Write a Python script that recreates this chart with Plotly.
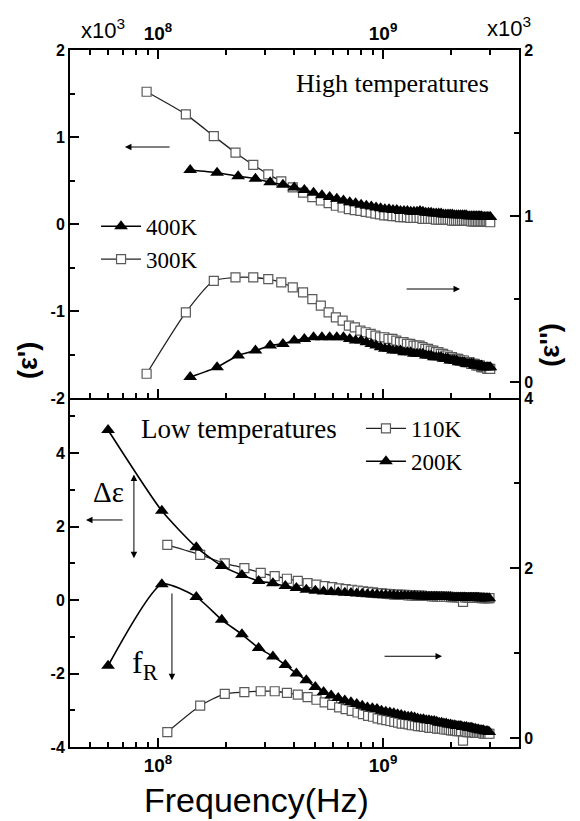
import plotly.graph_objects as go

# ---------------- data (frequencies in MHz, permittivity in units of 10^3) -------------
f300 = [89, 133, 177, 221, 265, 309, 353, 397, 441, 485,
        529, 573, 617, 661, 705, 749, 793, 837, 881, 925,
        969, 1013, 1057, 1101, 1145, 1189, 1233, 1277, 1321, 1365,
        1409, 1453, 1497, 1541, 1585, 1629, 1673, 1717, 1761, 1805,
        1849, 1893, 1937, 1981, 2025, 2069, 2113, 2157, 2201, 2245,
        2289, 2333, 2377, 2421, 2465, 2509, 2553, 2597, 2641, 2685,
        2729, 2773, 2817, 2861, 2905, 2949, 2993]
eps1_300K = [1.52, 1.26, 1.01, 0.82, 0.68, 0.57, 0.49, 0.42, 0.36, 0.31,
             0.27, 0.24, 0.21, 0.19, 0.17, 0.16, 0.15, 0.14, 0.13, 0.12,
             0.11, 0.10, 0.10, 0.09, 0.09, 0.08, 0.08, 0.08, 0.07, 0.07,
             0.07, 0.07, 0.06, 0.06, 0.06, 0.06, 0.06, 0.05, 0.05, 0.05,
             0.05, 0.05, 0.05, 0.05, 0.04, 0.04, 0.04, 0.04, 0.04, 0.04,
             0.04, 0.04, 0.04, 0.04, 0.03, 0.03, 0.03, 0.03, 0.03, 0.03,
             0.03, 0.03, 0.03, 0.03, 0.03, 0.03, 0.02]
eps2_300K = [0.05, 0.42, 0.61, 0.63, 0.63, 0.62, 0.60, 0.57, 0.54, 0.50,
             0.46, 0.42, 0.39, 0.37, 0.34, 0.33, 0.31, 0.30, 0.29, 0.28,
             0.27, 0.27, 0.26, 0.26, 0.25, 0.24, 0.24, 0.23, 0.23, 0.22,
             0.22, 0.22, 0.21, 0.20, 0.20, 0.19, 0.19, 0.18, 0.18, 0.17,
             0.17, 0.16, 0.16, 0.15, 0.15, 0.14, 0.14, 0.14, 0.13, 0.13,
             0.13, 0.12, 0.12, 0.12, 0.11, 0.11, 0.11, 0.10, 0.10, 0.10,
             0.09, 0.09, 0.09, 0.09, 0.08, 0.08, 0.08]

f400 = [139, 183, 227, 271, 315, 359, 403, 447, 491, 535,
        579, 623, 667, 711, 755, 799, 843, 887, 931, 975,
        1019, 1063, 1107, 1151, 1195, 1239, 1283, 1327, 1371, 1415,
        1459, 1503, 1547, 1591, 1635, 1679, 1723, 1767, 1811, 1855,
        1899, 1943, 1987, 2031, 2075, 2119, 2163, 2207, 2251, 2295,
        2339, 2383, 2427, 2471, 2515, 2559, 2603, 2647, 2691, 2735,
        2779, 2823, 2867, 2911, 2955, 2999]
eps1_400K = [0.62, 0.59, 0.55, 0.52, 0.48, 0.45, 0.42, 0.39, 0.36, 0.33,
             0.31, 0.29, 0.27, 0.25, 0.24, 0.22, 0.21, 0.20, 0.19, 0.18,
             0.17, 0.17, 0.16, 0.16, 0.15, 0.15, 0.15, 0.14, 0.14, 0.14,
             0.15, 0.14, 0.13, 0.13, 0.13, 0.12, 0.12, 0.12, 0.12, 0.11,
             0.11, 0.11, 0.11, 0.11, 0.10, 0.10, 0.10, 0.10, 0.10, 0.10,
             0.10, 0.09, 0.09, 0.09, 0.09, 0.09, 0.09, 0.09, 0.09, 0.09,
             0.08, 0.08, 0.08, 0.08, 0.08, 0.08]
eps2_400K = [0.03, 0.09, 0.16, 0.19, 0.22, 0.23, 0.25, 0.26, 0.27, 0.27,
             0.27, 0.27, 0.27, 0.26, 0.25, 0.25, 0.24, 0.23, 0.22, 0.21,
             0.20, 0.20, 0.19, 0.19, 0.19, 0.18, 0.18, 0.18, 0.17, 0.17,
             0.17, 0.17, 0.16, 0.16, 0.16, 0.15, 0.15, 0.15, 0.15, 0.14,
             0.14, 0.14, 0.13, 0.13, 0.13, 0.13, 0.12, 0.12, 0.12, 0.12,
             0.11, 0.11, 0.11, 0.11, 0.11, 0.10, 0.10, 0.10, 0.10, 0.10,
             0.09, 0.09, 0.09, 0.09, 0.09, 0.09]

f110 = [110, 154, 198, 242, 286, 330, 374, 418, 462, 506,
        550, 594, 638, 682, 726, 770, 814, 858, 902, 946,
        990, 1034, 1078, 1122, 1166, 1210, 1254, 1298, 1342, 1386,
        1430, 1474, 1518, 1562, 1606, 1650, 1694, 1738, 1782, 1826,
        1870, 1914, 1958, 2002, 2046, 2090, 2134, 2178, 2222, 2266,
        2310, 2354, 2398, 2442, 2486, 2530, 2574, 2618, 2662, 2706,
        2750, 2794, 2838, 2882, 2926, 2970]
eps1_110K = [1.50, 1.23, 1.00, 0.87, 0.74, 0.65, 0.58, 0.52, 0.46, 0.42,
             0.38, 0.35, 0.32, 0.30, 0.28, 0.26, 0.24, 0.22, 0.21, 0.19,
             0.18, 0.17, 0.16, 0.15, 0.15, 0.14, 0.14, 0.13, 0.13, 0.12,
             0.12, 0.12, 0.11, 0.11, 0.11, 0.10, 0.10, 0.10, 0.10, 0.09,
             0.09, 0.09, 0.09, 0.08, 0.08, 0.08, 0.08, 0.08, 0.07, -0.05,
             0.07, 0.07, 0.07, 0.07, 0.06, 0.06, 0.06, 0.06, 0.06, 0.06,
             0.05, 0.05, 0.05, 0.05, 0.05, 0.05]
eps2_110K = [0.07, 0.38, 0.52, 0.54, 0.55, 0.55, 0.53, 0.51, 0.48, 0.45,
             0.42, 0.39, 0.36, 0.34, 0.32, 0.30, 0.28, 0.26, 0.25, 0.23,
             0.22, 0.21, 0.20, 0.19, 0.18, 0.17, 0.17, 0.16, 0.15, 0.15,
             0.14, 0.14, 0.13, 0.13, 0.12, 0.12, 0.12, 0.11, 0.11, 0.11,
             0.10, 0.10, 0.10, 0.09, 0.09, 0.09, 0.08, 0.08, 0.08, -0.03,
             0.08, 0.07, 0.07, 0.07, 0.07, 0.07, 0.06, 0.06, 0.06, 0.06,
             0.06, 0.05, 0.05, 0.05, 0.05, 0.05]

f200 = [60, 104, 148, 192, 236, 280, 324, 368, 412, 456,
        500, 544, 588, 632, 676, 720, 764, 808, 852, 896,
        940, 984, 1028, 1072, 1116, 1160, 1204, 1248, 1292, 1336,
        1380, 1424, 1468, 1512, 1556, 1600, 1644, 1688, 1732, 1776,
        1820, 1864, 1908, 1952, 1996, 2040, 2084, 2128, 2172, 2216,
        2260, 2304, 2348, 2392, 2436, 2480, 2524, 2568, 2612, 2656,
        2700, 2744, 2788, 2832, 2876, 2920, 2964]
eps1_200K = [4.63, 2.43, 1.44, 0.93, 0.68, 0.52, 0.46, 0.38, 0.33, 0.28,
             0.25, 0.23, 0.22, 0.21, 0.20, 0.19, 0.18, 0.17, 0.16, 0.15,
             0.15, 0.14, 0.14, 0.13, 0.13, 0.12, 0.12, 0.12, 0.11, 0.11,
             0.11, 0.10, 0.10, 0.10, 0.10, 0.09, 0.09, 0.09, 0.09, 0.08,
             0.08, 0.08, 0.08, 0.08, 0.08, 0.07, 0.07, 0.07, 0.07, 0.07,
             0.07, 0.07, 0.06, 0.06, 0.06, 0.06, 0.06, 0.06, 0.06, 0.06,
             0.05, 0.05, 0.05, 0.05, 0.05, 0.05, 0.05]
eps2_200K = [0.85, 1.81, 1.66, 1.39, 1.22, 1.06, 0.96, 0.86, 0.76, 0.68,
             0.60, 0.54, 0.50, 0.47, 0.44, 0.42, 0.40, 0.38, 0.36, 0.35,
             0.34, 0.32, 0.31, 0.30, 0.29, 0.28, 0.27, 0.26, 0.25, 0.25,
             0.24, 0.23, 0.22, 0.22, 0.21, 0.21, 0.20, 0.20, 0.19, 0.18,
             0.18, 0.17, 0.17, 0.16, 0.16, 0.15, 0.15, 0.14, 0.14, 0.14,
             0.13, 0.13, 0.13, 0.12, 0.12, 0.12, 0.11, 0.11, 0.10, 0.10,
             0.09, 0.09, 0.09, 0.08, 0.08, 0.08, 0.07]

for f, a, b in [(f300, eps1_300K, eps2_300K), (f400, eps1_400K, eps2_400K),
                (f110, eps1_110K, eps2_110K), (f200, eps1_200K, eps2_200K)]:
    assert len(f) == len(a) == len(b), (len(f), len(a), len(b))

x_tickvals = [1e8, 1e9]
x_ticktext = ["10<sup>8</sup>", "10<sup>9</sup>"]
x_minor = [5e7, 6e7, 7e7, 8e7, 9e7, 2e8, 3e8, 4e8, 5e8, 6e8, 7e8, 8e8, 9e8, 2e9, 3e9]
y1_ticks = [-2, -1, 0, 1, 2]
y2_ticks = [0, 1, 2]
y3_ticks = [-4, -2, 0, 2, 4]
y4_ticks = [0, 2, 4]

def hz(v):
    return [m * 1e6 for m in v]

def bold(labels):
    return ["<b>%s</b>" % t for t in labels]

SANS = "Liberation Sans, Arial, sans-serif"
SERIF = "Liberation Serif, Times New Roman, serif"

sq = dict(symbol="square", size=9, color="white", line=dict(color="#5a5a5a", width=1.2))
tri = dict(symbol="triangle-up", size=12, color="black", line=dict(color="black", width=0))
ln = dict(color="black", width=1.6, shape="spline", smoothing=0.6)
ln_sq = dict(color="#222222", width=1.3, shape="spline", smoothing=0.6)

fig = go.Figure()
# top panel (high temperatures)
fig.add_trace(go.Scatter(x=hz(f300), y=eps1_300K, mode="lines+markers", marker=sq, line=ln_sq,
                         name="300K", legend="legend", legendrank=2, xaxis="x", yaxis="y"))
fig.add_trace(go.Scatter(x=hz(f300), y=eps2_300K, mode="lines+markers", marker=sq, line=ln_sq,
                         showlegend=False, xaxis="x", yaxis="y2"))
fig.add_trace(go.Scatter(x=hz(f400), y=eps1_400K, mode="lines+markers", marker=tri, line=ln,
                         name="400K", legend="legend", legendrank=1, xaxis="x", yaxis="y"))
fig.add_trace(go.Scatter(x=hz(f400), y=eps2_400K, mode="lines+markers", marker=tri, line=ln,
                         showlegend=False, xaxis="x", yaxis="y2"))
# bottom panel (low temperatures)
fig.add_trace(go.Scatter(x=hz(f110), y=eps1_110K, mode="lines+markers", marker=sq, line=ln_sq,
                         name="110K", legend="legend2", legendrank=1, xaxis="x2", yaxis="y3"))
fig.add_trace(go.Scatter(x=hz(f110), y=eps2_110K, mode="lines+markers", marker=sq, line=ln_sq,
                         showlegend=False, xaxis="x2", yaxis="y4"))
fig.add_trace(go.Scatter(x=hz(f200), y=eps1_200K, mode="lines+markers", marker=tri, line=ln,
                         name="200K", legend="legend2", legendrank=2, xaxis="x2", yaxis="y3"))
fig.add_trace(go.Scatter(x=hz(f200), y=eps2_200K, mode="lines+markers", marker=tri, line=ln,
                         showlegend=False, xaxis="x2", yaxis="y4"))

SPLIT = 0.5007
XR = [7.609, 9.604]
base_ax = dict(showline=True, linecolor="black", linewidth=2, ticks="inside", ticklen=9,
               tickwidth=2, tickcolor="black", showgrid=False, zeroline=False)
xfont = dict(family=SANS, size=19, color="black")
yfont = dict(family=SANS, size=16, color="black")
minor_x = dict(tickvals=x_minor, ticks="inside", ticklen=5, tickwidth=1.5, tickcolor="black")

def minor_y(vals):
    return dict(tickvals=vals, ticks="inside", ticklen=5, tickwidth=1.5, tickcolor="black")

fig.update_layout(
    width=580, height=821, plot_bgcolor="white", paper_bgcolor="white",
    margin=dict(l=70, r=61, t=50, b=74, autoexpand=False),
    xaxis=dict(type="log", range=XR, anchor="y", side="top", domain=[0, 1], mirror="ticks",
               tickvals=x_tickvals, ticktext=bold(x_ticktext), minor=minor_x, tickfont=xfont,
               **base_ax),
    xaxis2=dict(type="log", range=XR, anchor="y3", side="bottom", domain=[0, 1],
                tickvals=x_tickvals, ticktext=bold(x_ticktext), minor=minor_x, tickfont=xfont,
                **base_ax),
    yaxis=dict(domain=[SPLIT, 1], range=[-2, 2], anchor="x", side="left",
               tickvals=y1_ticks, ticktext=bold(y1_ticks), tickfont=yfont,
               minor=minor_y([-1.5, -0.5, 0.5, 1.5]), **base_ax),
    yaxis2=dict(domain=[SPLIT, 1], range=[-0.096, 2], anchor="x", overlaying="y", side="right",
                tickvals=y2_ticks, ticktext=bold(y2_ticks), tickfont=yfont,
                minor=minor_y([0.5, 1.5]), **base_ax),
    yaxis3=dict(domain=[0, SPLIT], range=[-4, 5.5], anchor="x2", side="left",
                tickvals=y3_ticks, ticktext=bold(y3_ticks), tickfont=yfont,
                minor=minor_y([-3, -1, 1, 3, 5]), **base_ax),
    yaxis4=dict(domain=[0, SPLIT], range=[-0.106, 4], anchor="x2", overlaying="y3", side="right",
                tickvals=y4_ticks, ticktext=bold(y4_ticks), tickfont=yfont,
                minor=minor_y([1, 3]), **base_ax),
    legend=dict(x=0.058, y=0.778, xanchor="left", yanchor="top", bgcolor="rgba(0,0,0,0)",
                font=dict(family=SERIF, size=23, color="black"), tracegroupgap=0, itemwidth=40),
    legend2=dict(x=0.648, y=0.488, xanchor="left", yanchor="top", bgcolor="rgba(0,0,0,0)",
                 font=dict(family=SERIF, size=23, color="black"), tracegroupgap=0, itemwidth=40),
)

annots = []
def txt(text, x, y, xref, yref, size, family=SERIF, angle=0, xanchor="center"):
    annots.append(dict(text=text, x=x, y=y, xref=xref, yref=yref, showarrow=False,
                       textangle=angle, xanchor=xanchor, yanchor="middle",
                       font=dict(family=family, size=size, color="black")))

def arrow(x, y, ax, ay, xref, yref, side="end"):
    annots.append(dict(x=x, y=y, ax=ax, ay=ay, xref=xref, yref=yref, axref=xref, ayref=yref,
                       text="", showarrow=True, arrowhead=2, arrowsize=1.3, arrowwidth=1,
                       arrowcolor="black", arrowside=side, standoff=0, startstandoff=0))

# multipliers and axis titles
txt("x10<sup>3</sup>", 0.073, 1.03, "paper", "paper", 22, family=SANS)
txt("x10<sup>3</sup>", 0.978, 1.033, "paper", "paper", 22, family=SANS)
txt("<b>(ε')</b>", -0.094, 0.555, "paper", "paper", 27, family=SANS, angle=-90)
txt("<b>(ε'')</b>", 1.069, 0.577, "paper", "paper", 27, family=SANS, angle=-90)
txt("Frequency(Hz)", 0.416, -0.076, "paper", "paper", 34, family=SANS)

# top panel annotations
txt("High temperatures", 9.04, 1.62, "x", "y", 26)
arrow(7.853, 0.885, 8.058, 0.885, "x", "y")
arrow(9.342, -0.747, 9.098, -0.747, "x", "y")

# bottom panel annotations
txt("Low temperatures", 8.358, 4.66, "x2", "y3", 27)
txt("Δε", 7.778, 2.94, "x2", "y3", 29)
txt("f<sub>R</sub>", 7.94, -1.75, "x2", "y3", 32)
arrow(7.68, 2.18, 7.849, 2.18, "x2", "y3")
arrow(7.893, 1.14, 7.893, 3.46, "x2", "y3", side="end+start")
arrow(8.062, -2.18, 8.062, 0.22, "x2", "y3")
arrow(9.262, -1.53, 9.0, -1.53, "x2", "y3")

fig.update_layout(annotations=annots)
fig.write_html("out.html", config={"displayModeBar": False},
               post_script="document.body.style.margin='0px';")
